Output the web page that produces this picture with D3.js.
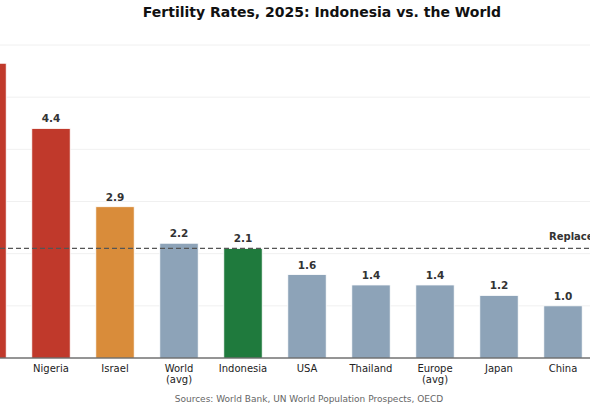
<!DOCTYPE html>
<html><head><meta charset="utf-8">
<script src="https://cdn.jsdelivr.net/npm/d3@7"></script>
<style>body{margin:0;background:#fff}svg{font-family:"DejaVu Sans",sans-serif}</style>
</head><body><svg id="chart" width="590" height="410"></svg>
<script>
// chart data (first bar is cut off at the left edge in the reference)
let countries = ['', 'Nigeria', 'Israel', 'World\n(avg)', 'Indonesia', 'USA', 'Thailand', 'Europe\n(avg)', 'Japan', 'China']
let rates = [5.65, 4.4, 2.9, 2.2, 2.1, 1.6, 1.4, 1.4, 1.2, 1.0]
let labels = ['', '4.4', '2.9', '2.2', '2.1', '1.6', '1.4', '1.4', '1.2', '1.0']
let colors = ['#c0392b', '#c0392b', '#d98c3a', '#8da3b8', '#1f7a3d', '#8da3b8', '#8da3b8', '#8da3b8', '#8da3b8', '#8da3b8']
let gridTicks = [0, 1, 2, 3, 4, 5, 6]
let replacement = 2.1

let svg = d3.select('#chart')
let x = d3.scaleBand().domain(d3.range(countries.length)).range([-45, 595]).paddingInner(0.4).paddingOuter(0.2)
let y = d3.scaleLinear().domain([0, 6]).range([358, 45])

svg.selectAll('.grid').data(gridTicks).enter().append('line')
    .attr('x1', 0).attr('x2', 590)
    .attr('y1', d => y(d)).attr('y2', d => y(d))
    .attr('stroke', '#ececec').attr('stroke-width', 0.8)

svg.selectAll('.bar').data(rates).enter().append('rect')
    .attr('x', (d, i) => x(i)).attr('width', x.bandwidth())
    .attr('y', d => y(d)).attr('height', d => y(0) - y(d))
    .attr('fill', (d, i) => colors[i]).attr('stroke', '#fff').attr('stroke-width', 0.8)

svg.selectAll('.val').data(rates).enter().append('text')
    .attr('x', (d, i) => x(i) + x.bandwidth() / 2).attr('y', d => y(d) - 6)
    .attr('text-anchor', 'middle').attr('font-size', 10.5).attr('font-weight', 'bold').attr('fill', '#333')
    .text((d, i) => labels[i])

svg.append('line').attr('x1', 0).attr('x2', 590)
    .attr('y1', y(replacement)).attr('y2', y(replacement))
    .attr('stroke', '#555').attr('stroke-width', 1.2).attr('stroke-dasharray', '5,3')
svg.append('text').attr('x', 549).attr('y', y(replacement) - 8)
    .attr('font-size', 10).attr('font-weight', 'bold').attr('fill', '#333').text('Replacement level (2.1)')

svg.append('line').attr('x1', 0).attr('x2', 590).attr('y1', y(0)).attr('y2', y(0))
    .attr('stroke', '#333').attr('stroke-width', 1)

countries.forEach((c, i) => {
    if (!c) return
    let cx = x(i) + x.bandwidth() / 2
    let t = svg.append('text').attr('x', cx).attr('y', 372)
        .attr('text-anchor', 'middle').attr('font-size', 10).attr('fill', '#222')
    c.split('\n').forEach((line, k) => t.append('tspan').attr('x', cx).attr('dy', k ? 11 : 0).text(line))
})

svg.append('text').attr('x', 322).attr('y', 17).attr('text-anchor', 'middle')
    .attr('font-size', 14).attr('font-weight', 'bold').attr('fill', '#111')
    .text('Fertility Rates, 2025: Indonesia vs. the World')
svg.append('text').attr('x', 309).attr('y', 402).attr('text-anchor', 'middle')
    .attr('font-size', 9).attr('fill', '#666')
    .text('Sources: World Bank, UN World Population Prospects, OECD')
</script></body></html>
